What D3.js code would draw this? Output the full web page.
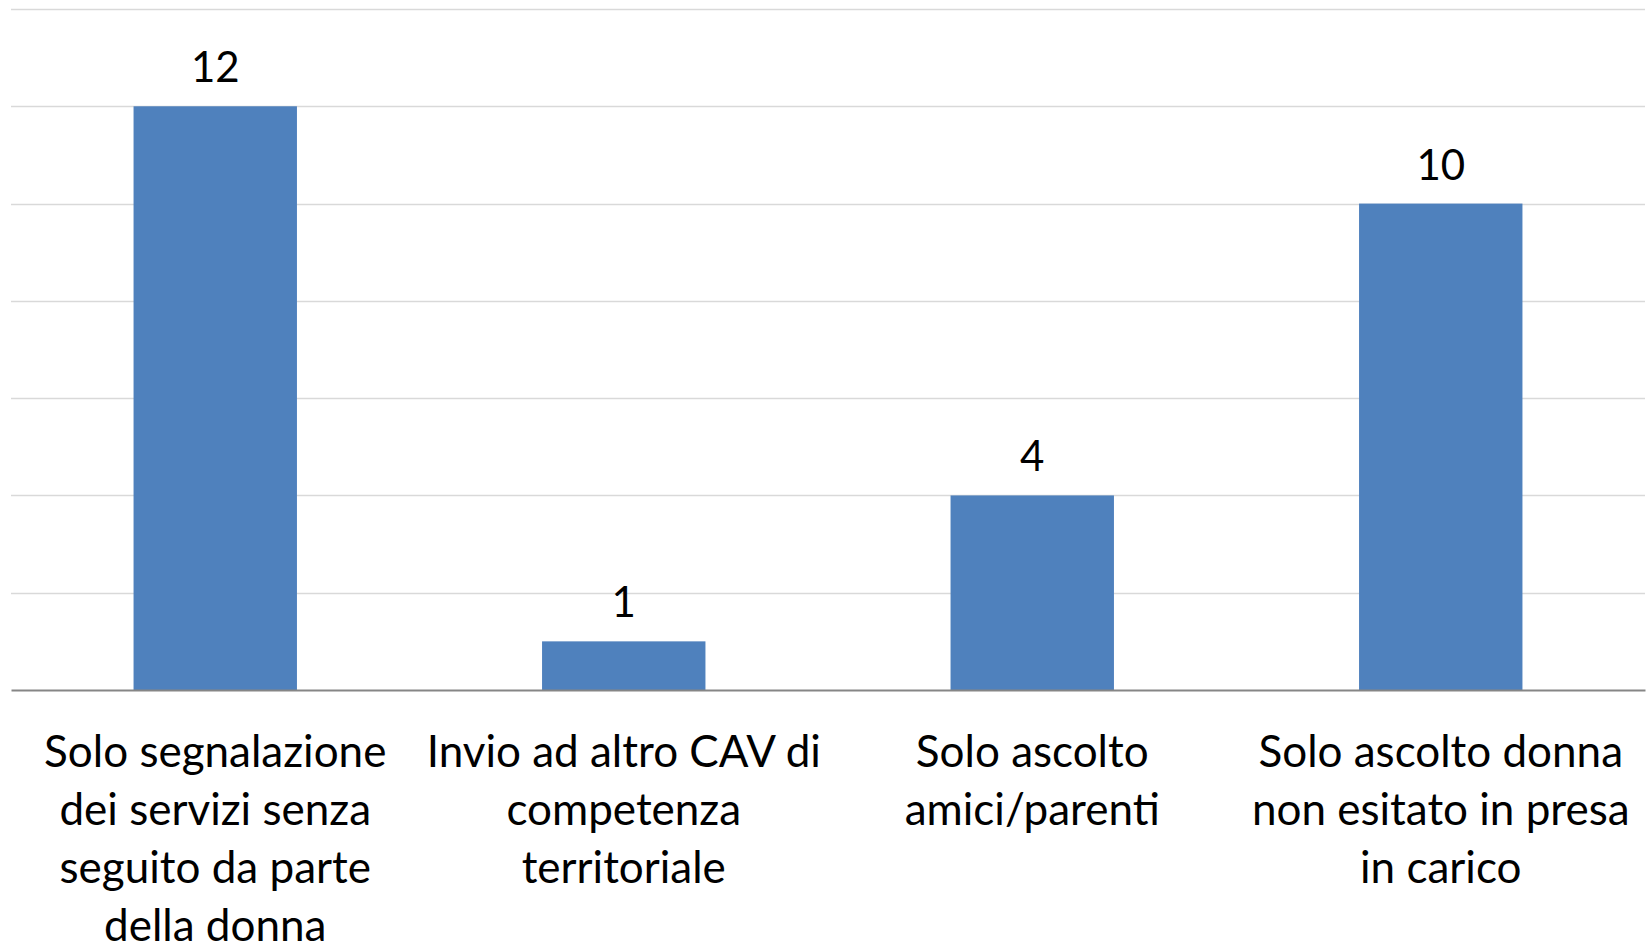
<!DOCTYPE html>
<html>
<head>
<meta charset="utf-8">
<script src="https://cdn.jsdelivr.net/npm/d3@7"></script>
<style>
  html, body { margin: 0; padding: 0; background: #ffffff; }
  svg { display: block; }
  text { font-family: Lato, "Open Sans", sans-serif; fill: #000; }
</style>
</head>
<body>
<svg id="chart" width="1651" height="951"></svg>
<script>
const categories = [
  "Solo segnalazione dei servizi senza seguito da parte della donna",
  "Invio ad altro CAV di competenza territoriale",
  "Solo ascolto amici/parenti",
  "Solo ascolto donna non esitato in presa in carico"
];
const categoryLines = [
  ["Solo segnalazione", "dei servizi senza", "seguito da parte", "della donna"],
  ["Invio ad altro CAV di", "competenza", "territoriale"],
  ["Solo ascolto", "amici/parenti"],
  ["Solo ascolto donna", "non esitato in presa", "in carico"]
];
const values = [12, 1, 4, 10];
const yTicks = [0, 2, 4, 6, 8, 10, 12, 14];

const svg = d3.select("#chart");
const margin = { left: 11, right: 6, top: 9, bottom: 261 };
const W = 1651, H = 951;

const x = d3.scaleBand()
  .domain(categories)
  .range([margin.left, W - margin.right])
  .paddingInner(0.6)
  .paddingOuter(0.3);

const y = d3.scaleLinear()
  .domain([0, 14])
  .range([H - margin.bottom, margin.top]);

// gridlines
svg.append("g")
  .selectAll("line")
  .data(yTicks.filter(d => d > 0))
  .join("line")
  .attr("x1", margin.left)
  .attr("x2", W - margin.right)
  .attr("y1", d => Math.round(y(d)) + 0.5)
  .attr("y2", d => Math.round(y(d)) + 0.5)
  .attr("stroke", "#d9d9d9")
  .attr("stroke-width", 1.5);

// bars
svg.append("g")
  .selectAll("rect")
  .data(values)
  .join("rect")
  .attr("x", (d, i) => x(categories[i]))
  .attr("width", x.bandwidth())
  .attr("y", d => y(d))
  .attr("height", d => y(0) - y(d))
  .attr("fill", "#4f81bd");

// baseline axis
const xAxis = d3.axisBottom(x).tickSize(0).tickFormat("");
const gx = svg.append("g")
  .attr("transform", `translate(0,${y(0)})`)
  .call(xAxis);
gx.select(".domain").attr("stroke", "#868686").attr("stroke-width", 2);

// value labels
svg.append("g")
  .selectAll("text")
  .data(values)
  .join("text")
  .attr("x", (d, i) => x(categories[i]) + x.bandwidth() / 2)
  .attr("y", d => y(d) - 24)
  .attr("text-anchor", "middle")
  .style("font-size", "42px")
  .text(d => d);

// category labels
const lineH = 58;
const firstBaseline = y(0) + 77;
const lab = svg.append("g");
categoryLines.forEach((lines, i) => {
  const cx = x(categories[i]) + x.bandwidth() / 2;
  lines.forEach((ln, j) => {
    lab.append("text")
      .attr("x", cx)
      .attr("y", firstBaseline + j * lineH)
      .attr("text-anchor", "middle")
      .style("font-size", "44px")
      .text(ln);
  });
});
</script>
</body>
</html>
